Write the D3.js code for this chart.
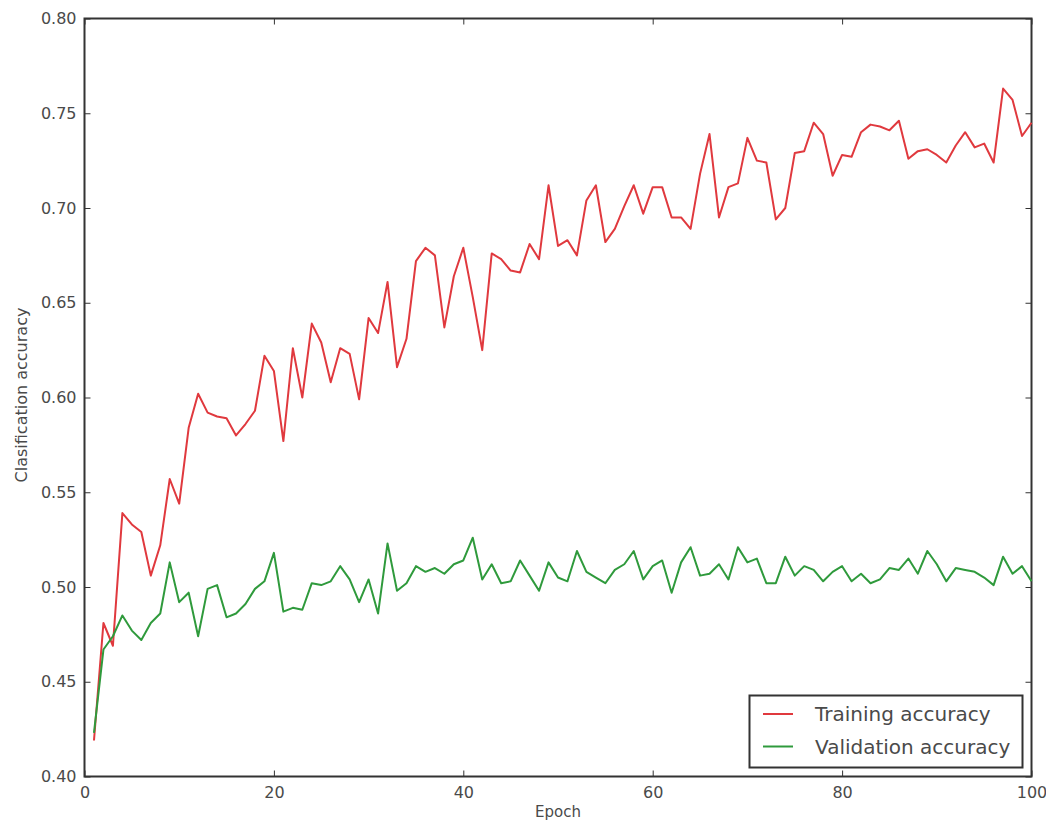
<!DOCTYPE html>
<html>
<head>
<meta charset="utf-8">
<script src="https://cdn.jsdelivr.net/npm/d3@7"></script>
<style>
  body { margin: 0; background: #fff; }
  svg { display: block; font-family: "DejaVu Sans", sans-serif; }
</style>
</head>
<body>
<svg width="1046" height="822"></svg>
<script>
// epochs 1..100
const epochs = d3.range(1, 101);

const trainAcc = [
  0.419, 0.481, 0.469, 0.539, 0.533, 0.529, 0.506, 0.522, 0.557, 0.544,
  0.584, 0.602, 0.592, 0.590, 0.589, 0.580, 0.586, 0.593, 0.622, 0.614,
  0.577, 0.626, 0.600, 0.639, 0.629, 0.608, 0.626, 0.623, 0.599, 0.642,
  0.634, 0.661, 0.616, 0.631, 0.672, 0.679, 0.675, 0.637, 0.664, 0.679,
  0.653, 0.625, 0.676, 0.673, 0.667, 0.666, 0.681, 0.673, 0.712, 0.680,
  0.683, 0.675, 0.704, 0.712, 0.682, 0.689, 0.701, 0.712, 0.697, 0.711,
  0.711, 0.695, 0.695, 0.689, 0.718, 0.739, 0.695, 0.711, 0.713, 0.737,
  0.725, 0.724, 0.694, 0.700, 0.729, 0.730, 0.745, 0.739, 0.717, 0.728,
  0.727, 0.740, 0.744, 0.743, 0.741, 0.746, 0.726, 0.730, 0.731, 0.728,
  0.724, 0.733, 0.740, 0.732, 0.734, 0.724, 0.763, 0.757, 0.738, 0.745
];

const validAcc = [
  0.423, 0.467, 0.474, 0.485, 0.477, 0.472, 0.481, 0.486, 0.513, 0.492,
  0.497, 0.474, 0.499, 0.501, 0.484, 0.486, 0.491, 0.499, 0.503, 0.518,
  0.487, 0.489, 0.488, 0.502, 0.501, 0.503, 0.511, 0.504, 0.492, 0.504,
  0.486, 0.523, 0.498, 0.502, 0.511, 0.508, 0.510, 0.507, 0.512, 0.514,
  0.526, 0.504, 0.512, 0.502, 0.503, 0.514, 0.506, 0.498, 0.513, 0.505,
  0.503, 0.519, 0.508, 0.505, 0.502, 0.509, 0.512, 0.519, 0.504, 0.511,
  0.514, 0.497, 0.513, 0.521, 0.506, 0.507, 0.512, 0.504, 0.521, 0.513,
  0.515, 0.502, 0.502, 0.516, 0.506, 0.511, 0.509, 0.503, 0.508, 0.511,
  0.503, 0.507, 0.502, 0.504, 0.510, 0.509, 0.515, 0.507, 0.519, 0.512,
  0.503, 0.510, 0.509, 0.508, 0.505, 0.501, 0.516, 0.507, 0.511, 0.503
];

const xTicks = [0, 20, 40, 60, 80, 100];
const yTicks = [0.40, 0.45, 0.50, 0.55, 0.60, 0.65, 0.70, 0.75, 0.80];

const seriesNames = ["Training accuracy", "Validation accuracy"];
const seriesColors = ["#e0393e", "#2f9a3c"];

const svg = d3.select("svg");

const plotLeft = 84.5, plotRight = 1031.5, plotTop = 18.5, plotBottom = 776.5;

const x = d3.scaleLinear().domain([0, 100]).range([plotLeft, plotRight]);
const y = d3.scaleLinear().domain([0.40, 0.80]).range([plotBottom, plotTop]);

const textColor = "#4a4a4a";
const frameColor = "#333";

// bottom axis
const xAxis = svg.append("g")
    .attr("transform", `translate(0,${plotBottom})`)
    .call(d3.axisBottom(x).tickValues(xTicks).tickFormat(d3.format("d"))
        .tickSizeInner(-6).tickSizeOuter(0).tickPadding(10));
// top axis (ticks only)
const xAxisTop = svg.append("g")
    .attr("transform", `translate(0,${plotTop})`)
    .call(d3.axisTop(x).tickValues(xTicks).tickFormat("")
        .tickSizeInner(-6).tickSizeOuter(0));
// left axis
const yAxis = svg.append("g")
    .attr("transform", `translate(${plotLeft},0)`)
    .call(d3.axisLeft(y).tickValues(yTicks).tickFormat(d3.format(".2f"))
        .tickSizeInner(-6).tickSizeOuter(0).tickPadding(8));
// right axis (ticks only)
const yAxisRight = svg.append("g")
    .attr("transform", `translate(${plotRight},0)`)
    .call(d3.axisRight(y).tickValues(yTicks).tickFormat("")
        .tickSizeInner(-6).tickSizeOuter(0));

[xAxis, xAxisTop, yAxis, yAxisRight].forEach(g => {
    g.select(".domain").remove();
    g.selectAll(".tick line").attr("stroke", frameColor).attr("stroke-width", 1);
    g.selectAll(".tick text")
        .attr("fill", textColor)
        .style("font-size", "16px")
        .style("font-family", "DejaVu Sans, sans-serif");
});

// frame
svg.append("rect")
    .attr("x", plotLeft).attr("y", plotTop)
    .attr("width", plotRight - plotLeft).attr("height", plotBottom - plotTop)
    .attr("fill", "none")
    .attr("stroke", frameColor)
    .attr("stroke-width", 2);

// lines
const line = d3.line()
    .x((d, i) => x(epochs[i]))
    .y(d => y(d));

[trainAcc, validAcc].forEach((vals, k) => {
    svg.append("path")
        .datum(vals)
        .attr("d", line)
        .attr("fill", "none")
        .attr("stroke", seriesColors[k])
        .attr("stroke-width", 2)
        .attr("stroke-linejoin", "round");
});

// axis labels
svg.append("text")
    .attr("transform", `translate(27,395) rotate(-90)`)
    .attr("text-anchor", "middle")
    .attr("fill", textColor)
    .style("font-size", "16px")
    .text("Clasification accuracy");

svg.append("text")
    .attr("x", (plotLeft + plotRight) / 2)
    .attr("y", 817)
    .attr("text-anchor", "middle")
    .attr("fill", textColor)
    .style("font-size", "15px")
    .text("Epoch");

// legend
const legend = svg.append("g");
legend.append("rect")
    .attr("x", 749.5).attr("y", 695.5)
    .attr("width", 273).attr("height", 72)
    .attr("fill", "#fff")
    .attr("stroke", frameColor)
    .attr("stroke-width", 2);

seriesNames.forEach((name, k) => {
    const ly = 714 + k * 32.5;
    legend.append("line")
        .attr("x1", 763).attr("x2", 793)
        .attr("y1", ly).attr("y2", ly)
        .attr("stroke", seriesColors[k])
        .attr("stroke-width", 2);
    legend.append("text")
        .attr("x", 815).attr("y", ly)
        .attr("dy", "0.35em")
        .attr("fill", textColor)
        .style("font-size", "20px")
        .text(name);
});
</script>
</body>
</html>
